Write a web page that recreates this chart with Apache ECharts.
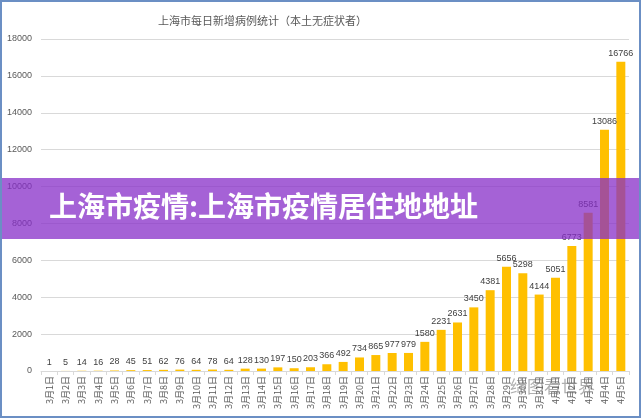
<!DOCTYPE html>
<html>
<head>
    <meta charset="utf-8">
    <title>上海市每日新增病例统计</title>
    <script src="https://cdn.jsdelivr.net/npm/echarts@6/dist/echarts.min.js"></script>
    <style>
        body { margin: 0; background: #fff; }
        #chart { width: 641px; height: 419px; }
    </style>
</head>
<body>
    <div id="chart"></div>
    <script>
        // 数据
        var days = ['3月1日', '3月2日', '3月3日', '3月4日', '3月5日', '3月6日', '3月7日', '3月8日', '3月9日', '3月10日',
            '3月11日', '3月12日', '3月13日', '3月14日', '3月15日', '3月16日', '3月17日', '3月18日', '3月19日', '3月20日',
            '3月21日', '3月22日', '3月23日', '3月24日', '3月25日', '3月26日', '3月27日', '3月28日', '3月29日', '3月30日',
            '3月31日', '4月1日', '4月2日', '4月3日', '4月4日', '4月5日'];
        var cases = [1, 5, 14, 16, 28, 45, 51, 62, 76, 64,
            78, 64, 128, 130, 197, 150, 203, 366, 492, 734,
            865, 977, 979, 1580, 2231, 2631, 3450, 4381, 5656, 5298,
            4144, 5051, 6773, 8581, 13086, 16766];

        var chart = echarts.init(document.getElementById('chart'));
        var cjk = '"Noto Sans CJK SC", sans-serif';

        var option = {
            animation: false,
            title: {
                text: '上海市每日新增病例统计（本土无症状者）',
                left: 153,
                top: 10,
                textStyle: { fontSize: 11, fontWeight: 'normal', color: '#595959', fontFamily: cjk }
            },
            grid: { left: 41, right: 12, top: 39, bottom: 48 },
            xAxis: {
                type: 'category',
                data: days,
                axisLine: { lineStyle: { color: '#d9d9d9' } },
                axisTick: { show: true, length: 4, lineStyle: { color: '#d9d9d9' } },
                axisLabel: {
                    rotate: 90, interval: 0, fontSize: 9, color: '#595959',
                    fontFamily: cjk, margin: 5
                }
            },
            yAxis: {
                type: 'value',
                min: 0,
                max: 18000,
                interval: 2000,
                axisLine: { show: false },
                axisTick: { show: false },
                axisLabel: {
                    fontSize: 9, color: '#595959', margin: 9, fontFamily: 'Arial',
                    formatter: function (v) { return String(v); }
                },
                splitLine: { lineStyle: { color: '#d9d9d9' } }
            },
            series: [{
                type: 'bar',
                data: cases,
                barWidth: '55%',
                itemStyle: { color: '#FFC000' },
                label: {
                    show: true, position: 'top', distance: 4,
                    fontSize: 9, color: '#404040', fontFamily: 'Arial'
                }
            }],
            graphic: [
                {
                    type: 'rect',
                    shape: { x: 0, y: 178, width: 641, height: 61 },
                    style: { fill: 'rgba(135, 45, 200, 0.75)' },
                    z: 100
                },
                {
                    type: 'text',
                    left: 49,
                    top: 192,
                    style: {
                        text: '上海市疫情:上海市疫情居住地地址',
                        fill: '#fff',
                        font: 'bold 28px "Noto Sans CJK SC", sans-serif'
                    },
                    z: 101
                },
                {
                    type: 'text',
                    left: 510,
                    top: 378,
                    style: {
                        text: '缔图看世界',
                        fill: 'rgba(110, 110, 110, 0.55)',
                        font: '17px "Noto Sans CJK SC", sans-serif'
                    },
                    z: 101
                },
                {
                    type: 'rect',
                    shape: { x: 1, y: 1, width: 639, height: 416 },
                    style: { fill: 'none', stroke: '#6b8fc4', lineWidth: 2 },
                    z: 102
                }
            ]
        };

        chart.setOption(option);
    </script>
</body>
</html>
